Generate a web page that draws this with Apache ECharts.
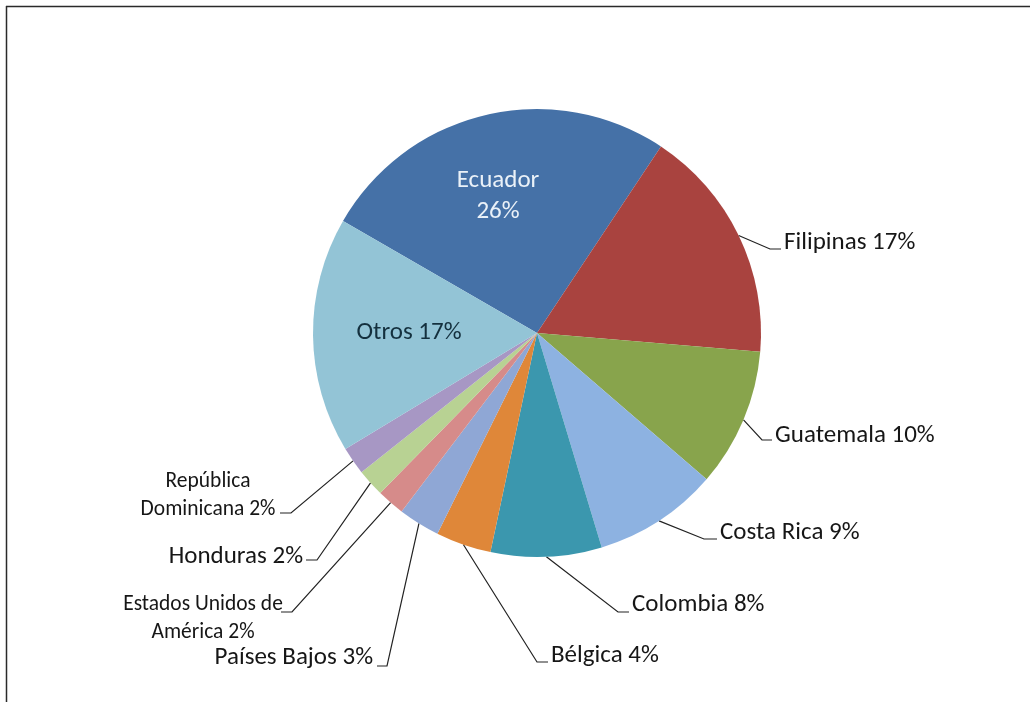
<!DOCTYPE html>
<html><head><meta charset="utf-8">
<script src="https://cdn.jsdelivr.net/npm/echarts@6/dist/echarts.min.js"></script>
<style>html,body{margin:0;padding:0;background:#fff}#chart{width:1030px;height:702px}</style>
</head><body><div id="chart"></div>
<script>
const categories = ['Ecuador','Filipinas','Guatemala','Costa Rica','Colombia','Bélgica','Países Bajos','Estados Unidos de América','Honduras','República Dominicana','Otros'];
const shares = [26,17,10,9,8,4,3,2,2,2,17];
const labelTexts = ['Ecuador\n26%','Filipinas 17%','Guatemala 10%','Costa Rica 9%','Colombia 8%','Bélgica 4%','Países Bajos 3%','Estados Unidos de\nAmérica 2%','Honduras 2%','República\nDominicana 2%','Otros 17%'];
const colors = ['#4571a7','#a9433f','#88a44c','#8db2e1','#3b97ae','#df8739','#8fa7d5','#d68b8a','#b8d293','#a797c4','#93c4d6'];
// label placement: [x, y, align, attachX, attachY, stubDx]
const labelPlacement = [
  [498,196,'center'],
  [784,243,'left',781,249,-11],
  [775,436,'left',772,440,-10],
  [720,533,'left',717,539,-13],
  [632,605,'left',629,612,-11],
  [551,656,'left',548,662,-11],
  [373,658,'right',377,666,10],
  [203,619,'center',281,612,11],
  [303,557,'right',306,560,11],
  [208,496,'center',280,513,11],
  [409,333,'center']
];
const smallLabel = [7, 9];
const FONT = 'Carlito, Lato, sans-serif';

const chart = echarts.init(document.getElementById('chart'), null, {renderer: 'canvas'});
const data = categories.map((name, i) => {
  const inside = (i === 0 || i === categories.length - 1);
  const small = smallLabel.indexOf(i) >= 0;
  return {
    name: name,
    value: shares[i],
    itemStyle: {color: colors[i]},
    label: {
      position: inside ? 'inside' : 'outside',
      color: i === 0 ? '#eaf1f8' : (inside ? '#14303e' : '#161616'),
      fontSize: small ? 21.5 : 25,
      lineHeight: i === 0 ? 31 : 28
    },
    labelLine: {show: !inside}
  };
});

chart.setOption({
  animation: false,
  backgroundColor: '#ffffff',
  graphic: [
    {type: 'line', shape: {x1: 6, y1: 6.5, x2: 1030, y2: 6.5}, style: {stroke: '#2a2a2a', lineWidth: 1.5}},
    {type: 'line', shape: {x1: 6.5, y1: 6, x2: 6.5, y2: 702}, style: {stroke: '#2a2a2a', lineWidth: 1.5}}
  ],
  series: [{
    type: 'pie',
    center: [537, 333],
    radius: 224,
    startAngle: 150,
    clockwise: true,
    avoidLabelOverlap: false,
    itemStyle: {borderWidth: 0},
    label: {
      show: true,
      fontFamily: FONT,
      formatter: p => labelTexts[p.dataIndex]
    },
    labelLine: {
      show: true,
      length: 20,
      length2: 10,
      lineStyle: {color: '#222', width: 1.2}
    },
    labelLayout: function (params) {
      const p = labelPlacement[params.dataIndex];
      const out = {x: p[0], y: p[1], align: p[2], verticalAlign: 'middle'};
      if (p.length > 3 && params.labelLinePoints) {
        const edge = params.labelLinePoints[0];
        out.labelLinePoints = [[edge[0], edge[1]], [p[3] + p[5], p[4]], [p[3], p[4]]];
      }
      return out;
    },
    emphasis: {disabled: true},
    data: data
  }]
});
</script></body></html>
